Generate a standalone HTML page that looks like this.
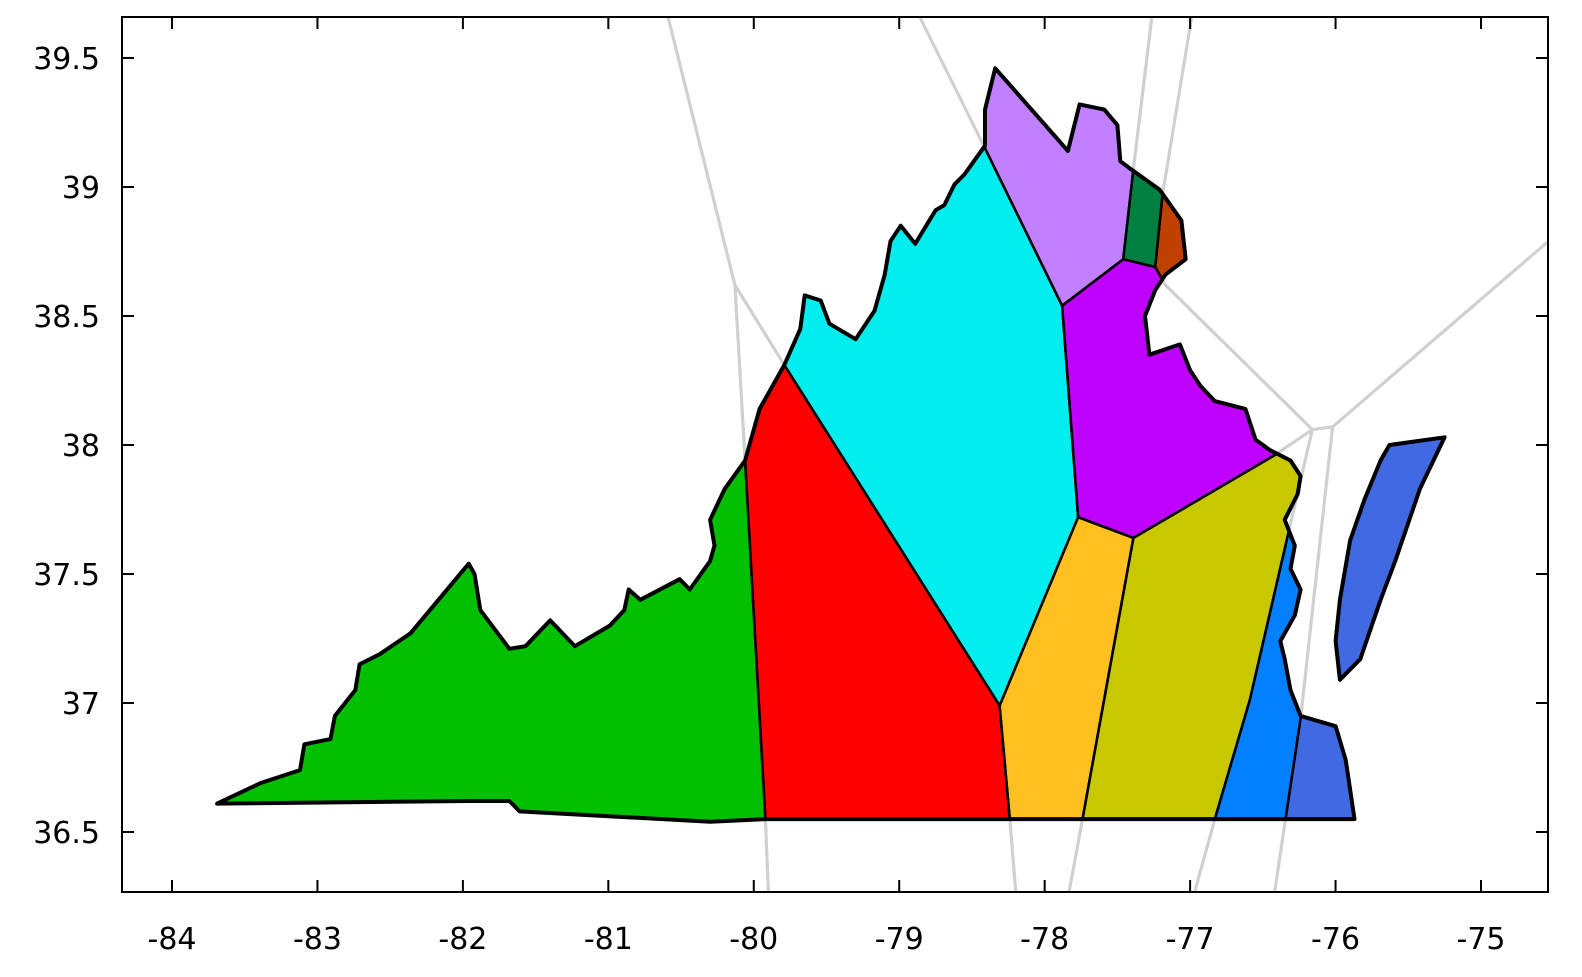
<!DOCTYPE html>
<html><head><meta charset="utf-8"><style>
body{margin:0;background:#fff;}
svg{display:block;font-family:"DejaVu Sans","Liberation Sans",sans-serif;}
</style></head><body>
<svg id="chart" width="1582" height="977" viewBox="0 0 1582 977" xmlns="http://www.w3.org/2000/svg">
<defs>
<clipPath id="plotclip"><rect x="122" y="17" width="1426" height="875"/></clipPath>
<clipPath id="stateclip"><path id="stateclippath"/></clipPath>
</defs>
<g id="gray" clip-path="url(#plotclip)"></g>
<g id="fills" clip-path="url(#stateclip)"></g>
<g id="borders" clip-path="url(#stateclip)"></g>
<g id="outline"></g>
<g id="axes"></g>
</svg>
<script>
const xTicks=[-84,-83,-82,-81,-80,-79,-78,-77,-76,-75];
const yTicks=[36.5,37,37.5,38,38.5,39,39.5];
const mainland=[[-83.69,36.61],[-83.39,36.69],[-83.12,36.74],[-83.09,36.84],[-82.91,36.86],[-82.88,36.95],[-82.74,37.05],[-82.71,37.15],[-82.57,37.19],[-82.36,37.27],[-81.96,37.54],[-81.92,37.50],[-81.88,37.36],[-81.68,37.21],[-81.57,37.22],[-81.40,37.32],[-81.23,37.22],[-80.99,37.30],[-80.89,37.36],[-80.86,37.44],[-80.78,37.40],[-80.51,37.48],[-80.44,37.44],[-80.30,37.55],[-80.27,37.61],[-80.30,37.71],[-80.20,37.83],[-80.06,37.94],[-79.96,38.14],[-79.89,38.21],[-79.79,38.31],[-79.68,38.45],[-79.65,38.58],[-79.54,38.56],[-79.48,38.47],[-79.30,38.41],[-79.17,38.52],[-79.10,38.66],[-79.06,38.79],[-78.99,38.85],[-78.89,38.78],[-78.75,38.91],[-78.69,38.93],[-78.62,39.01],[-78.55,39.05],[-78.41,39.16],[-78.41,39.30],[-78.34,39.46],[-77.84,39.14],[-77.76,39.32],[-77.59,39.30],[-77.50,39.24],[-77.48,39.10],[-77.41,39.07],[-77.21,38.99],[-77.06,38.87],[-77.03,38.72],[-77.17,38.66],[-77.24,38.60],[-77.31,38.50],[-77.28,38.35],[-77.07,38.39],[-77.00,38.29],[-76.93,38.23],[-76.83,38.17],[-76.62,38.14],[-76.55,38.02],[-76.45,37.98],[-76.31,37.94],[-76.24,37.88],[-76.26,37.81],[-76.35,37.71],[-76.28,37.61],[-76.31,37.52],[-76.24,37.44],[-76.28,37.34],[-76.38,37.24],[-76.35,37.17],[-76.31,37.05],[-76.24,36.95],[-76.00,36.91],[-75.93,36.78],[-75.87,36.55],[-78.24,36.55],[-79.92,36.55],[-80.30,36.54],[-81.61,36.58],[-81.68,36.62],[-81.96,36.62]];
const easternShore=[[-76.00,37.24],[-75.97,37.40],[-75.90,37.63],[-75.80,37.79],[-75.69,37.94],[-75.63,38.00],[-75.25,38.03],[-75.42,37.83],[-75.59,37.55],[-75.69,37.40],[-75.83,37.17],[-75.97,37.09]];
const cellNames=["green","red","cyan","lavender","darkgreen","brown","purple","orange","olive","blue","royalblue"];
const cellColors=["#00c000","#ff0000","#00eeee","#c080ff","#008040","#c04000","#c000ff","#ffc020","#c8c800","#0080ff","#4169e1"];
const cellGreen=[[-85,36],[-79.88,36],[-79.92,36.55],[-80.06,37.94],[-80.13,38.62],[-80.74,40],[-85,40]];
const cellRed=[[-80.06,37.94],[-80.13,38.62],[-79.79,38.31],[-78.31,36.99],[-78.24,36.55],[-78.16,36],[-79.88,36],[-79.92,36.55]];
const cellCyan=[[-80.13,38.62],[-79.79,38.31],[-78.31,36.99],[-77.77,37.72],[-77.88,38.54],[-78.41,39.15],[-79.16,40],[-80.74,40]];
const cellLavender=[[-78.41,39.15],[-77.88,38.54],[-77.46,38.72],[-77.39,39.07],[-77.19,40],[-79.16,40]];
const cellDarkgreen=[[-77.39,39.07],[-77.46,38.72],[-77.24,38.69],[-77.19,38.97],[-76.89,40],[-77.19,40]];
const cellBrown=[[-77.19,38.97],[-77.24,38.69],[-77.17,38.62],[-76.16,38.06],[-76.02,38.07],[-74,39.05],[-74,40],[-76.89,40]];
const cellPurple=[[-77.88,38.54],[-77.77,37.72],[-77.39,37.64],[-76.42,37.96],[-76.16,38.06],[-77.17,38.62],[-77.24,38.69],[-77.46,38.72]];
const cellOrange=[[-77.77,37.72],[-78.31,36.99],[-78.24,36.55],[-78.16,36],[-77.92,36],[-77.74,36.55],[-77.39,37.64]];
const cellOlive=[[-77.39,37.64],[-76.42,37.96],[-76.16,38.06],[-76.59,37.01],[-76.83,36.55],[-77.1,36],[-77.92,36],[-77.74,36.55]];
const cellBlue=[[-76.16,38.06],[-76.59,37.01],[-76.83,36.55],[-77.1,36],[-76.49,36],[-76.24,36.94],[-76.02,38.07]];
const cellRoyal=[[-76.02,38.07],[-76.24,36.94],[-76.49,36],[-74,36],[-74,39.05]];
const cells=[cellGreen,cellRed,cellCyan,cellLavender,cellDarkgreen,cellBrown,cellPurple,cellOrange,cellOlive,cellBlue,cellRoyal];

const X0=122,X1=1548,Y0=17,Y1=892;
const sx=v=>172+(v+84)*(1481-172)/9;
const sy=v=>58+(39.5-v)*(832-58)/3;
const NS='http://www.w3.org/2000/svg';
const pathOf=pts=>'M'+pts.map(p=>sx(p[0]).toFixed(1)+','+sy(p[1]).toFixed(1)).join('L')+'Z';
function mk(tag,attrs,parent){const e=document.createElementNS(NS,tag);for(const k in attrs)e.setAttribute(k,attrs[k]);parent.appendChild(e);return e;}
const statePath=pathOf(mainland)+pathOf(easternShore);
document.getElementById('stateclippath').setAttribute('d',statePath);
const gGray=document.getElementById('gray'),gFill=document.getElementById('fills'),gB=document.getElementById('borders'),gO=document.getElementById('outline'),gA=document.getElementById('axes');
cells.forEach((c,i)=>{
  const g=mk('path',{d:pathOf(c),fill:'none',stroke:'#d0d0d0','stroke-width':3,'stroke-linejoin':'round'},gGray);
  
  
  const f=mk('path',{d:pathOf(c),fill:cellColors[i],stroke:'none'},gFill);
  
  
  const b=mk('path',{d:pathOf(c),fill:'none',stroke:'#000','stroke-width':2.5,'stroke-linejoin':'round'},gB);
  
  
});
const o=mk('path',{d:statePath,fill:'none',stroke:'#000','stroke-width':4,'stroke-linejoin':'round'},gO);


const fr=mk('rect',{x:X0,y:Y0,width:X1-X0,height:Y1-Y0,fill:'none',stroke:'#000','stroke-width':2},gA);


xTicks.forEach(t=>{
  const x=sx(t);
  const a=mk('path',{d:`M${x},${Y1}v-12M${x},${Y0}v12`,stroke:'#000','stroke-width':2},gA);
  
  
  const l=mk('text',{x:x,y:949,'text-anchor':'middle','font-size':30,fill:'#000'},gA);
  l.textContent=String(t);
  
  
});
yTicks.forEach(t=>{
  const y=sy(t);
  const a=mk('path',{d:`M${X0},${y}h12M${X1},${y}h-12`,stroke:'#000','stroke-width':2},gA);
  
  
  const l=mk('text',{x:100,y:y+11,'text-anchor':'end','font-size':30,fill:'#000'},gA);
  l.textContent=String(t);
  
  
});
</script>
</body></html>
